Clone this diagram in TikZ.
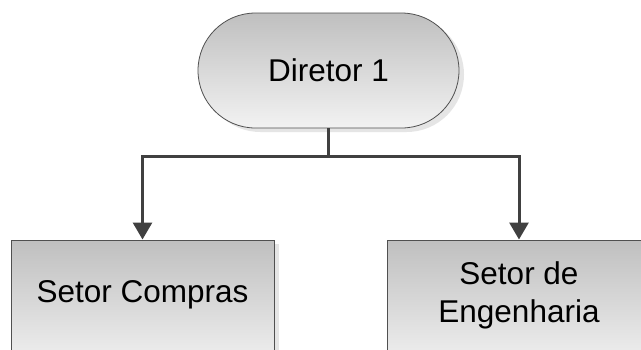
\documentclass[tikz,border=0pt]{standalone}
\usepackage{fontspec}
\setmainfont{Liberation Sans}
\usetikzlibrary{arrows.meta,shadows}
\definecolor{linegray}{HTML}{404040}
\definecolor{edgegray}{HTML}{505050}
\begin{document}
\begin{tikzpicture}[x=1pt,y=-1pt,
  every node/.style={font=\fontsize{31.5}{38}\selectfont, text=black, align=center, inner sep=0pt},
  shade/.style={top color=black!25, bottom color=black!5,
    general shadow={fill=black!10, shadow xshift=5pt, shadow yshift=-4pt}},
  terminal/.style={shade, draw=edgegray, line width=0.8pt, rectangle,
    rounded corners=57.5pt, minimum width=261pt, minimum height=115pt},
  unit/.style={shade, draw=edgegray, line width=1pt, rectangle,
    minimum width=263pt, minimum height=110pt, top color=black!25, bottom color=black!8},
  conn/.style={draw=linegray, line width=3pt,
    -{Triangle[width=19pt,length=17pt]}}]
  \clip (0,0) rectangle (641,349);
  \fill[white] (0,0) rectangle (641,349);

  % top level and the two departments
  \node[terminal] (dir) at (328.5,70.5) {Diretor 1};
  \node[unit] (compras) at (142.5,295) {Setor Compras};
  \node[unit] (eng) at (519,295) {Setor de\\Engenharia};

  % branching connectors
  \draw[conn] (dir.south) -- ++(0,28) -| (compras.north);
  \draw[conn] (dir.south) -- ++(0,28) -| (eng.north);
\end{tikzpicture}
\end{document}
